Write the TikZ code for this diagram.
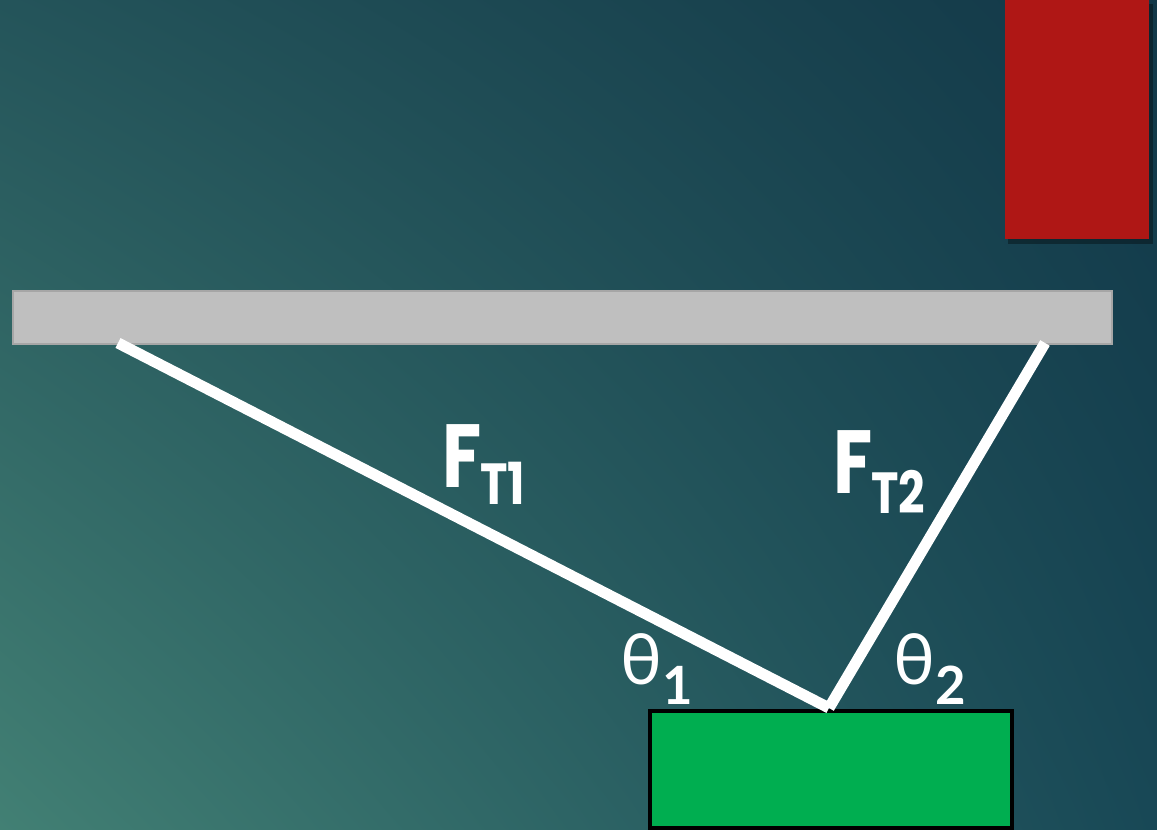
\documentclass[tikz,border=0pt]{standalone}
\usepackage{fontspec}
\setmainfont{Poppins}
\newfontfamily\greekfont{Lato}
\usepackage{tikz}
\usetikzlibrary{positioning,calc,shadings}
\definecolor{bgul}{RGB}{36,84,90}
\definecolor{bgur}{RGB}{18,56,72}
\definecolor{bgll}{RGB}{66,128,116}
\definecolor{bglr}{RGB}{24,72,86}
\definecolor{wred}{RGB}{175,23,21}
\definecolor{bargray}{RGB}{191,191,191}
\definecolor{barline}{RGB}{166,166,166}
\definecolor{bgreen}{RGB}{0,174,80}

\newcommand{\narrow}[1]{\scalebox{0.8}[1]{#1}}

\begin{document}
\begin{tikzpicture}[
  x=0.02cm, y=-0.02cm,
  rope/.style    = {draw=white, line width=6.3pt},
  flabel/.style  = {text=white, anchor=base west, inner sep=0pt, font=\bfseries},
  alabel/.style  = {text=white, anchor=base west, inner sep=0pt},
  barbox/.style  = {fill=bargray, draw=barline, line width=1.1pt},
  blockbox/.style= {fill=bgreen, draw=black, line width=2.1pt}
]

%% ===== background =====
\useasboundingbox (0,0) rectangle (1157,830);
\shade[upper left=bgul, upper right=bgur, lower left=bgll, lower right=bglr]
  (0,0) rectangle (1157,830);

%% ===== red weight (top right) =====
\fill[black, opacity=0.35] (1008,4) rectangle (1153,244);
\fill[wred] (1005,-2) rectangle (1149,239);

%% ===== ceiling bar and block =====
\draw[barbox] (13,291) rectangle (1112,344);
\coordinate (lfix) at (118,343);
\coordinate (rfix) at (1045,343);
\coordinate (knot) at (829,708);
\draw[blockbox] (650,711) rectangle (1012,828);

%% ===== ropes =====
\draw[rope] (lfix) -- (knot);
\draw[rope] (rfix) -- (knot);

%% ===== labels =====
\node[flabel] (ft1) at (442,488)
  {\narrow{\fontsize{51}{51}\selectfont F\kern-1pt\raisebox{-9.5pt}{\fontsize{33}{33}\selectfont T1}}};
\node[flabel] (ft2) at (833,494)
  {\narrow{\fontsize{51}{51}\selectfont F\kern-1pt\raisebox{-11pt}{\fontsize{33}{33}\selectfont T2}}};
\node[alabel] (th1) at (620,685)
  {\greekfont\fontsize{40}{40}\selectfont θ\raisebox{-11pt}{\fontsize{30}{30}\selectfont\bfseries 1}};
\node[alabel] (th2) at (893,685)
  {\greekfont\fontsize{40}{40}\selectfont θ\raisebox{-11pt}{\fontsize{30}{30}\selectfont\bfseries 2}};

\end{tikzpicture}
\end{document}
